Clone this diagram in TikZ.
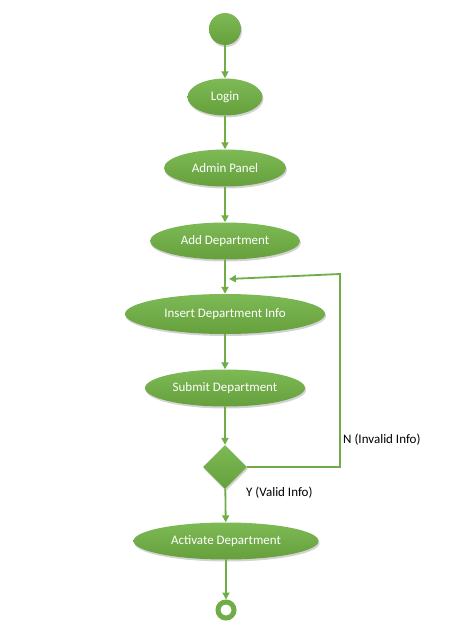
\documentclass[tikz,border=0pt]{standalone}
\usepackage{fontspec}
\setmainfont{Carlito}
\usetikzlibrary{shapes.geometric,arrows.meta,shadows}
\definecolor{og}{HTML}{70AD47}
\definecolor{ogl}{HTML}{7DB955}
\definecolor{ogd}{HTML}{65A03C}
\tikzset{
  act/.style={ellipse,top color=ogl,bottom color=ogd,draw=none,text=white,font=\fontsize{13}{15}\selectfont,minimum height=37pt,inner sep=0pt,drop shadow={opacity=0.35,shadow xshift=1pt,shadow yshift=-2pt}},
  flow/.style={draw=og,line width=1.8pt,-{Triangle[width=7pt,length=7pt]}},
  lbl/.style={font=\fontsize{13}{15}\selectfont,text=black,inner sep=0pt}
}
\begin{document}
\begin{tikzpicture}[x=1pt,y=-1pt]
\useasboundingbox (0,0) rectangle (450,640);
\node[circle,top color=ogl,bottom color=ogd,minimum size=32pt,inner sep=0pt,drop shadow={opacity=0.35,shadow xshift=1pt,shadow yshift=-2pt}] (start) at (225,29) {};
\node[act,minimum width=75pt] (login) at (225,97) {Login};
\node[act,minimum width=122pt] (admin) at (225,168) {Admin Panel};
\node[act,minimum width=150pt] (add) at (225,241) {Add Department};
\node[act,minimum width=200pt,minimum height=40pt] (ins) at (225,314) {Insert Department Info};
\node[act,minimum width=160pt] (sub) at (225,388) {Submit Department};
\node[diamond,top color=ogl,bottom color=ogd,minimum size=44pt,inner sep=0pt,aspect=1,drop shadow={opacity=0.35,shadow xshift=1pt,shadow yshift=-2pt}] (dec) at (225,467) {};
\node[act,minimum width=185pt] (actv) at (226,541) {Activate Department};
\node[circle,draw=og,line width=5pt,fill=white,minimum size=16pt,inner sep=0pt,drop shadow={opacity=0.35,shadow xshift=1pt,shadow yshift=-2pt}] (end) at (226,610) {};
\coordinate (c1) at (340,467);
\coordinate (c2) at (340,274);
\coordinate (tip) at (229,279);
\draw[flow] (start) -- (login);
\draw[flow] (login) -- (admin);
\draw[flow] (admin) -- (add);
\draw[flow] (add) -- (ins);
\draw[flow] (ins) -- (sub);
\draw[flow] (sub) -- (dec);
\draw[flow] (dec) -- (actv);
\draw[flow] (actv.south) -- (end);
\draw[flow] (dec.east) -- (c1) -- (c2) -- (tip);
\node[lbl,anchor=west] (nlbl) at (343,440) {N (Invalid Info)};
\node[lbl,anchor=west] (ylbl) at (246,493) {Y (Valid Info)};
\end{tikzpicture}
\end{document}
